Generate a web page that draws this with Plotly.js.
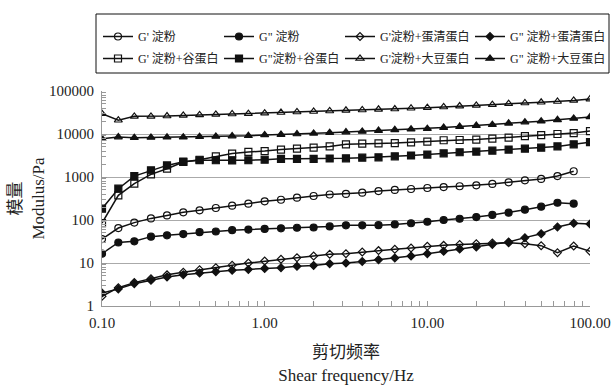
<!DOCTYPE html>
<html>
<head>
<meta charset="utf-8">
<script src="https://cdn.plot.ly/plotly-3.0.1.min.js"></script>
<style>html,body{margin:0;padding:0;background:#fff;}#chart{width:612px;height:387px;}</style>
</head>
<body>
<div id="chart"></div>
<script>
// Shear frequency (Hz)
const freq = [0.1, 0.126, 0.158, 0.2, 0.251, 0.316, 0.398, 0.501, 0.631, 0.794,
  1, 1.26, 1.58, 2, 2.51, 3.16, 3.98, 5.01, 6.31, 7.94,
  10, 12.6, 15.8, 20, 25.1, 31.6, 39.8, 50.1, 63.1, 79.4, 100];

const seriesNames = ["G' 淀粉", 'G" 淀粉', "G'淀粉+蛋清蛋白", 'G" 淀粉+蛋清蛋白',
  "G' 淀粉+谷蛋白", 'G"淀粉+谷蛋白', "G'淀粉+大豆蛋白", 'G" 淀粉+大豆蛋白'];

const gpStarch = [36, 65, 87, 109, 128, 151, 168, 190, 215, 240,
  272, 296, 330, 362, 392, 405, 433, 470, 500, 526,
  555, 582, 610, 640, 690, 750, 835, 900, 1050, 1360];
const gppStarch = [16.5, 30, 32, 41, 44, 47, 52, 54, 58, 60,
  62, 64, 66, 67, 71, 75, 75, 76, 79, 84,
  91, 100, 107, 117, 131, 148, 174, 204, 252, 240];
const gpEgg = [1.68, 2.67, 3.5, 4.3, 5.3, 6.1, 7.0, 7.8, 8.9, 10,
  11.1, 12.2, 13.3, 14.5, 15.9, 16.5, 18.0, 19.4, 20.8, 22.3,
  24.4, 25.7, 27.1, 28.1, 29.2, 29.6, 28.1, 25.3, 17.4, 24.8, 18.7];
const gppEgg = [2.0, 2.5, 3.3, 3.95, 4.7, 5.35, 5.85, 6.3, 6.75, 7.1,
  7.4, 7.8, 8.4, 8.8, 9.65, 10.0, 10.9, 11.9, 13.1, 14.5,
  16.5, 18.7, 21.1, 23.5, 27.1, 30.8, 38.9, 48, 69, 84, 81];
const gpGluten = [85, 375, 700, 1150, 1560, 2230, 2520, 3030, 3500, 3830,
  4000, 4350, 4560, 4800, 5150, 5750, 5960, 6050, 6150, 6400,
  6650, 7150, 7250, 7400, 7770, 8220, 8880, 9400, 10000, 10500, 11700];
const gppGluten = [183, 535, 1050, 1430, 1860, 2270, 2450, 2450, 2430, 2450,
  2520, 2640, 2640, 2640, 2690, 2720, 2810, 2870, 3030, 3160,
  3330, 3560, 3760, 3900, 4100, 4350, 4560, 4800, 5150, 5750, 6450];
const gpSoy = [29700, 20900, 25700, 25700, 26200, 27000, 27700, 28500, 29200, 29700,
  30600, 31600, 32500, 33400, 34300, 35500, 36200, 37500, 38100, 39700,
  41000, 42500, 44600, 46300, 48000, 50700, 52600, 54700, 57000, 60500, 64900];
const gppSoy = [7760, 8500, 8220, 8300, 8400, 8450, 8650, 8800, 8950, 9100,
  9500, 9700, 10000, 10350, 10700, 11100, 11500, 12000, 12500, 12900,
  13300, 14100, 14900, 15700, 16500, 17700, 18900, 19900, 21400, 23000, 25000];

const xTickVals = [0.1, 1, 10, 100];
const xTickText = ['0.10', '1.00', '10.00', '100.00'];
const yTickVals = [1, 10, 100, 1000, 10000, 100000];
const yTickText = ['1', '10', '100', '1000', '10000', '100000'];

const allY = [gpStarch, gppStarch, gpEgg, gppEgg, gpGluten, gppGluten, gpSoy, gppSoy];
const symbols = ['circle-open', 'circle', 'diamond-open', 'diamond', 'square-open', 'square', 'triangle-up-open', 'triangle-up'];
const sizes = [7, 7, 6, 6, 7, 7, 7, 7];

// page geometry (px) used to place the legend entries in paper coordinates
const W = 612, H = 387, ML = 102, MR = 22, MT = 91, MB = 81;
const PW = W - ML - MR, PH = H - MT - MB;
const px2x = p => (p - ML) / PW;
const py2y = p => (H - MB - p) / PH;

const colLeft = [98, 219, 340, 470];
const rowTop = [22, 44];

const serif = 'Liberation Serif, Times New Roman, Noto Sans CJK SC, serif';

const traces = allY.map((ys, i) => ({
  x: freq.slice(0, ys.length),
  y: ys,
  name: seriesNames[i],
  legend: i === 0 ? 'legend' : 'legend' + (i + 1),
  type: 'scatter',
  mode: 'lines+markers',
  line: {color: '#111', width: 1.5},
  marker: {symbol: symbols[i], size: sizes[i], color: '#111', line: {color: '#111', width: 1.2}}
}));

const layout = {
  width: W, height: H,
  margin: {l: ML, r: MR, t: MT, b: MB, autoexpand: false},
  paper_bgcolor: '#fff', plot_bgcolor: '#fff',
  font: {family: serif, color: '#222', size: 13},
  showlegend: true,
  shapes: [{
    type: 'rect', xref: 'paper', yref: 'paper',
    x0: px2x(96), x1: px2x(609), y0: py2y(73), y1: py2y(14),
    line: {color: '#111', width: 1}, fillcolor: 'rgba(0,0,0,0)'
  }],
  xaxis: {
    type: 'log', range: [-1, 2],
    tickvals: xTickVals, ticktext: xTickText,
    ticks: 'inside', ticklen: 5, tickcolor: '#999',
    showline: true, linecolor: '#999', linewidth: 1,
    showgrid: false, zeroline: false, automargin: false,
    minor: {ticks: 'inside', ticklen: 5, tickcolor: '#999', dtick: 'D1', showgrid: false},
    tickfont: {family: serif, size: 15, color: '#222'},
    ticklabelstandoff: 3,
    title: {text: '剪切频率<br>Shear frequency/Hz', font: {family: serif, size: 17, color: '#222'}, standoff: 16}
  },
  yaxis: {
    type: 'log', range: [0, 5],
    tickvals: yTickVals, ticktext: yTickText,
    ticks: 'inside', ticklen: 5, tickcolor: '#999',
    showline: true, linecolor: '#999', linewidth: 1,
    showgrid: true, gridcolor: '#aaa', gridwidth: 1, zeroline: false, automargin: false,
    minor: {ticks: 'inside', ticklen: 4, tickcolor: '#999', dtick: 'D1', showgrid: false},
    tickfont: {family: serif, size: 15, color: '#222'},
    ticklabelstandoff: 4,
    title: {text: '模量<br>Modulus/Pa', font: {family: serif, size: 17, color: '#222'}, standoff: 0}
  }
};

// one small legend per entry: 4 columns x 2 rows (order follows the reference)
const slot = [[0, 0], [1, 0], [2, 0], [3, 0], [0, 1], [1, 1], [2, 1], [3, 1]];
slot.forEach(([c, r], i) => {
  const key = i === 0 ? 'legend' : 'legend' + (i + 1);
  layout[key] = {
    x: px2x(colLeft[c]), y: py2y(rowTop[r]), xanchor: 'left', yanchor: 'top',
    bgcolor: 'rgba(0,0,0,0)', borderwidth: 0,
    font: {family: serif, size: 12, color: '#222'},
    itemwidth: 30
  };
});

Plotly.newPlot('chart', traces, layout, {displayModeBar: false, staticPlot: true});
</script>
</body>
</html>
